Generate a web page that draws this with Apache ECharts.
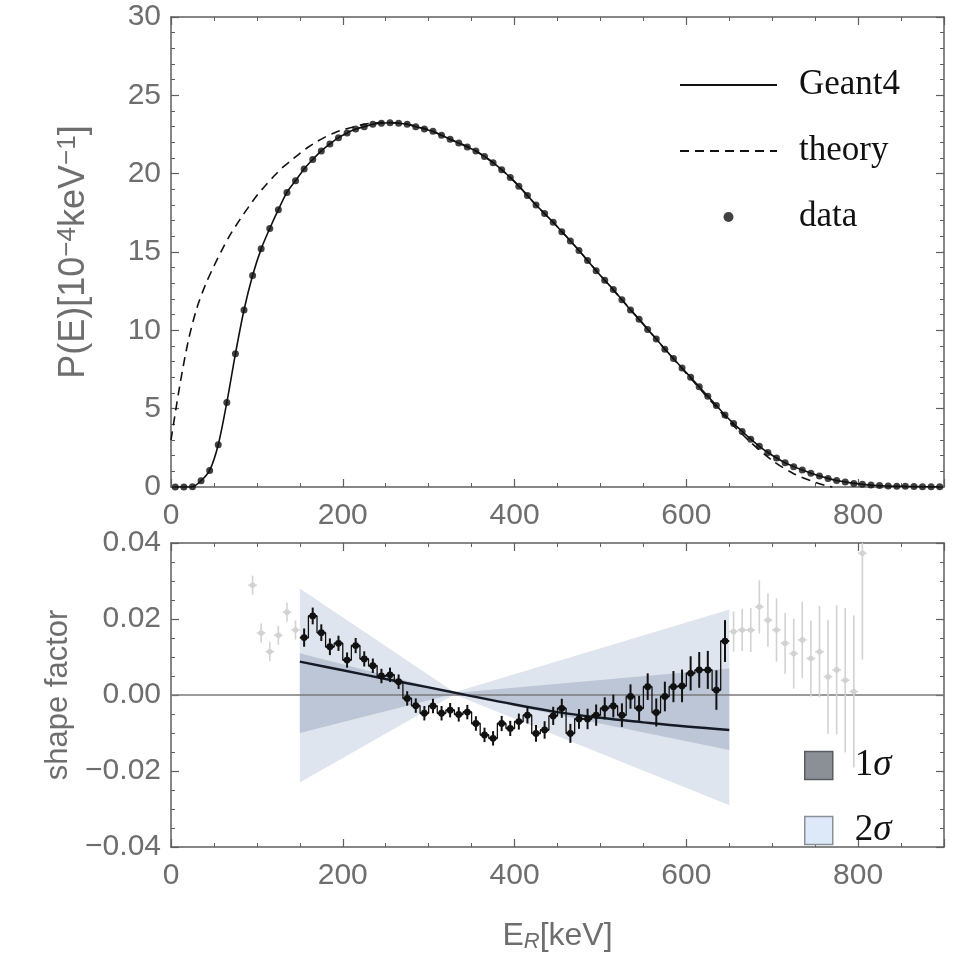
<!DOCTYPE html>
<html>
<head>
<meta charset="utf-8">
<script src="https://cdn.jsdelivr.net/npm/echarts@6/dist/echarts.min.js"></script>
<style>
  html, body { margin: 0; padding: 0; background: #fff; }
  #main { width: 964px; height: 959px; }
</style>
</head>
<body>
<div id="main"></div>
<script>
(() => {
  // ---- top panel: spectrum, bins of 10 keV ----
  const spectrumE = [5, 15, 25, 35, 45, 55, 65, 75, 85, 95, 105, 115, 125, 135, 145, 155, 165, 175, 185, 195,
    205, 215, 225, 235, 245, 255, 265, 275, 285, 295, 305, 315, 325, 335, 345, 355, 365, 375, 385, 395,
    405, 415, 425, 435, 445, 455, 465, 475, 485, 495, 505, 515, 525, 535, 545, 555, 565, 575, 585, 595,
    605, 615, 625, 635, 645, 655, 665, 675, 685, 695, 705, 715, 725, 735, 745, 755, 765, 775, 785, 795,
    805, 815, 825, 835, 845, 855, 865, 875, 885, 895];
  const spectrumVal = [0, 0, 0.02, 0.4, 1.06, 2.7, 5.4, 8.5, 11.3, 13.5, 15.2, 16.5, 17.7, 18.8, 19.55, 20.3, 20.9, 21.45, 21.9, 22.3,
    22.6, 22.85, 23.0, 23.15, 23.22, 23.25, 23.22, 23.15, 23.0, 22.85, 22.7, 22.45, 22.2, 21.95, 21.7, 21.45, 21.1, 20.7, 20.25, 19.75,
    19.2, 18.6, 18.0, 17.45, 16.9, 16.3, 15.7, 15.1, 14.45, 13.8, 13.2, 12.6, 11.95, 11.3, 10.7, 10.05, 9.45, 8.8, 8.2, 7.6,
    7.0, 6.4, 5.8, 5.2, 4.6, 4.05, 3.55, 3.05, 2.6, 2.2, 1.85, 1.55, 1.3, 1.08, 0.88, 0.7, 0.55, 0.42, 0.32, 0.23,
    0.17, 0.12, 0.09, 0.06, 0.05, 0.04, 0.03, 0.02, 0.01, 0.01];

  const theoryE = [0, 10, 20, 30, 40, 50, 60, 70, 80, 90, 100, 110, 120, 130, 140, 150, 160, 170, 180, 190,
    200, 210, 220, 230, 240, 250, 260, 270, 280, 290, 300, 325, 350, 375, 400, 425, 450, 475, 500, 525,
    550, 575, 600, 625, 650, 675, 700, 725, 750, 765, 770];
  const theoryVal = [3.0, 6.4, 9.3, 11.4, 12.9, 14.1, 15.2, 16.2, 17.05, 17.85, 18.6, 19.25, 19.85, 20.4, 20.85, 21.3, 21.7, 22.05, 22.35, 22.6,
    22.8, 22.95, 23.1, 23.2, 23.25, 23.28, 23.25, 23.2, 23.1, 22.95, 22.8, 22.2, 21.6, 20.7, 19.5, 18.0, 16.6, 15.1, 13.5, 11.95,
    10.4, 8.8, 7.25, 5.7, 4.2, 2.85, 1.7, 0.85, 0.3, 0.05, 0];

  // ---- bottom panel: shape factor ----
  const shapeE = [155, 165, 175, 185, 195, 205, 215, 225, 235, 245, 255, 265, 275, 285, 295, 305, 315, 325, 335, 345,
    355, 365, 375, 385, 395, 405, 415, 425, 435, 445, 455, 465, 475, 485, 495, 505, 515, 525, 535, 545,
    555, 565, 575, 585, 595, 605, 615, 625, 635, 645];
  const shapeVal = [0.0151, 0.0208, 0.0164, 0.0127, 0.0136, 0.0092, 0.0130, 0.0095, 0.0077, 0.0050,
    0.0053, 0.0035, -0.0009, -0.0028, -0.0048, -0.0029, -0.0048, -0.0040, -0.0051, -0.0045,
    -0.0075, -0.0105, -0.0114, -0.0075, -0.0088, -0.0070, -0.0053, -0.0101, -0.0092, -0.0055,
    -0.0035, -0.0101, -0.0063, -0.0063, -0.0053, -0.0035, -0.0029, -0.0053, -0.0004, -0.0035,
    0.0022, -0.0046, -0.0004, 0.0022, 0.0024, 0.0057, 0.0066, 0.0066, 0.0013, 0.0142];
  const shapeErr = [0.0024, 0.0022, 0.0022, 0.0022, 0.0020, 0.0020, 0.0020, 0.0020, 0.0019, 0.0019,
    0.0019, 0.0019, 0.0019, 0.0019, 0.0019, 0.0019, 0.0019, 0.0019, 0.0019, 0.0019,
    0.0019, 0.0019, 0.0019, 0.0020, 0.0020, 0.0021, 0.0022, 0.0022, 0.0023, 0.0024,
    0.0025, 0.0025, 0.0026, 0.0027, 0.0028, 0.0029, 0.0030, 0.0031, 0.0032, 0.0033,
    0.0035, 0.0037, 0.0039, 0.0041, 0.0043, 0.0045, 0.0047, 0.0050, 0.0052, 0.0055];

  const grayE = [95, 105, 115, 125, 135, 145, 655, 665, 675, 685, 695, 705, 715, 725, 735, 745, 755, 765, 775, 785, 795, 805];
  const grayVal = [0.0289, 0.0163, 0.0114, 0.0157, 0.0218, 0.0171, 0.0167, 0.0171, 0.0171, 0.0232, 0.0197,
    0.0171, 0.0136, 0.0109, 0.0145, 0.0096, 0.0114, 0.0048, 0.0066, 0.0039, 0.0009, 0.0373];
  const grayErr = [0.0025, 0.0025, 0.0025, 0.0025, 0.0025, 0.0025, 0.0053, 0.0056, 0.0058, 0.0070, 0.0070,
    0.0083, 0.0080, 0.0092, 0.0100, 0.0100, 0.0120, 0.0150, 0.0170, 0.0190, 0.0200, 0.0280];

  const fitE = [150, 200, 250, 300, 350, 400, 450, 500, 550, 600, 650];
  const fitVal = [0.0088, 0.0065, 0.0042, 0.0020, -0.0003, -0.0025, -0.0045, -0.0060, -0.0072, -0.0083, -0.0092];

  const bandE = [150, 330, 650];
  const sigma1Lo = [-0.0100, 0.0003, -0.0145];
  const sigma1Hi = [0.0110, 0.0005, 0.0070];
  const sigma2Lo = [-0.0230, 0.0001, -0.0290];
  const sigma2Hi = [0.0280, 0.0007, 0.0225];

  const halfBin = 5;
  const yMaxBottom = 0.04;
  const tickFont = 'Liberation Sans';
  const labelColor = '#6e6e6e';
  const frameColor = '#5f5f5f';

  let myChart = echarts.init(document.getElementById('main'));

  const pairs = (xs, ys) => xs.map((x, i) => [x, ys[i]]);

  function bandRender(lo, hi) {
    return (params, api) => {
      if (params.dataIndex !== 0) return;
      const pts = [];
      bandE.forEach((e, i) => pts.push(api.coord([e, hi[i]])));
      for (let i = bandE.length - 1; i >= 0; i--) pts.push(api.coord([bandE[i], lo[i]]));
      return {
        type: 'polygon',
        shape: { points: pts },
        style: { fill: api.visual('color') }
      };
    };
  }

  function errorRender(color, width, r) {
    return (params, api) => {
      const e = api.value(0), v = api.value(1), err = api.value(2);
      const c = api.coord([e, v]);
      const t = api.coord([e, Math.min(v + err, yMaxBottom)]);
      const b = api.coord([e, v - err]);
      const l = api.coord([e - halfBin, v]);
      const rr = api.coord([e + halfBin, v]);
      return {
        type: 'group',
        children: [
          { type: 'line', shape: { x1: t[0], y1: t[1], x2: b[0], y2: b[1] }, style: { stroke: color, lineWidth: width } },
          { type: 'line', shape: { x1: l[0], y1: l[1], x2: rr[0], y2: rr[1] }, style: { stroke: color, lineWidth: width } },
          { type: 'circle', shape: { cx: c[0], cy: c[1], r: r }, style: { fill: color } }
        ]
      };
    };
  }

  const frameAxis = (extra) => Object.assign({
    type: 'value',
    axisLine: { show: true, onZero: false, lineStyle: { color: frameColor, width: 1.5 } },
    axisTick: { show: true, inside: true, length: 8, lineStyle: { color: frameColor, width: 1.2 } },
    minorTick: { show: true, length: 4, lineStyle: { color: frameColor, width: 1 } },
    splitLine: { show: false },
    axisLabel: { show: false }
  }, extra);

  const labelStyle = { show: true, color: labelColor, fontFamily: tickFont, fontSize: 30 };
  const minorX = { show: true, splitNumber: 4, length: 4, lineStyle: { color: frameColor } };
  const xCommon = { min: 0, max: 900, interval: 200 };

  let option = {
    animation: false,
    backgroundColor: '#ffffff',
    grid: [
      { left: 171, top: 17, width: 773, height: 470 },
      { left: 171, top: 543, width: 773, height: 304 }
    ],
    xAxis: [
      frameAxis(Object.assign({ gridIndex: 0, position: 'bottom', minorTick: minorX,
        axisLabel: Object.assign({}, labelStyle, { margin: 14, showMaxLabel: false }) }, xCommon)),
      frameAxis(Object.assign({ gridIndex: 0, position: 'top', minorTick: minorX }, xCommon)),
      frameAxis(Object.assign({ gridIndex: 1, position: 'bottom', minorTick: minorX,
        axisLabel: Object.assign({}, labelStyle, { margin: 14, showMaxLabel: false }),
        name: '{e|E}{r|R}{e|[keV]}',
        nameLocation: 'middle',
        nameGap: 72,
        nameTextStyle: {
          color: labelColor,
          rich: {
            e: { fontFamily: tickFont, fontSize: 32, color: labelColor, lineHeight: 34 },
            r: { fontFamily: tickFont, fontSize: 22, fontStyle: 'italic', color: labelColor, lineHeight: 15, verticalAlign: 'bottom' }
          }
        } }, xCommon)),
      frameAxis(Object.assign({ gridIndex: 1, position: 'top', minorTick: minorX }, xCommon))
    ],
    yAxis: [
      frameAxis({ gridIndex: 0, position: 'left', min: 0, max: 30, interval: 5,
        minorTick: { show: true, splitNumber: 5, length: 4, lineStyle: { color: frameColor } },
        axisLabel: Object.assign({}, labelStyle, { margin: 10 }),
        name: 'P(E)[10{s|−4}keV{s|−1}]',
        nameLocation: 'middle',
        nameGap: 78,
        nameRotate: 90,
        nameTextStyle: {
          color: labelColor, fontFamily: tickFont, fontSize: 36, lineHeight: 38,
          rich: { s: { fontFamily: tickFont, fontSize: 26, color: labelColor, lineHeight: 18, verticalAlign: 'top' } }
        } }),
      frameAxis({ gridIndex: 0, position: 'right', min: 0, max: 30, interval: 5,
        minorTick: { show: true, splitNumber: 5, length: 4, lineStyle: { color: frameColor } } }),
      frameAxis({ gridIndex: 1, position: 'left', min: -0.04, max: 0.04, interval: 0.02,
        minorTick: { show: true, splitNumber: 4, length: 4, lineStyle: { color: frameColor } },
        axisLabel: Object.assign({}, labelStyle, {
          margin: 10,
          formatter: v => Math.abs(v) < 1e-9 ? '0.00' : (v < 0 ? '−' : '') + Math.abs(v).toFixed(2)
        }),
        name: 'shape factor',
        nameLocation: 'middle',
        nameGap: 82,
        nameRotate: 90,
        nameTextStyle: { color: labelColor, fontFamily: tickFont, fontSize: 31 } }),
      frameAxis({ gridIndex: 1, position: 'right', min: -0.04, max: 0.04, interval: 0.02,
        minorTick: { show: true, splitNumber: 4, length: 4, lineStyle: { color: frameColor } } })
    ],
    legend: [
      {
        data: [
          { name: 'Geant4', itemStyle: { opacity: 0 } },
          { name: 'theory', itemStyle: { opacity: 0 } },
          'data'
        ],
        orient: 'vertical',
        left: 674,
        top: 62,
        itemWidth: 97,
        itemHeight: 10,
        itemGap: 30,
        selectedMode: false,
        textStyle: { fontFamily: 'Liberation Serif', fontSize: 35, color: '#111', lineHeight: 36, padding: [0, 0, 0, 17] }
      },
      {
        data: [
          { name: '1σ', icon: 'rect', itemStyle: { color: '#8b9097', borderColor: '#575c63', borderWidth: 1.5 } },
          { name: '2σ', icon: 'rect', itemStyle: { color: '#dde9f8', borderColor: '#8a9098', borderWidth: 1.5 } }
        ],
        orient: 'vertical',
        left: 799,
        top: 742,
        itemWidth: 28,
        itemHeight: 28,
        itemGap: 28,
        selectedMode: false,
        formatter: name => name.replace('σ', '{s|σ}'),
        textStyle: {
          fontFamily: 'Liberation Serif', fontSize: 37, color: '#111', padding: [0, 0, 0, 17],
          rich: { s: { fontFamily: 'Liberation Serif', fontSize: 37, fontStyle: 'italic', color: '#111' } }
        }
      }
    ],
    series: [
      {
        name: 'theory',
        type: 'line',
        xAxisIndex: 0, yAxisIndex: 0,
        data: pairs(theoryE, theoryVal),
        symbol: 'none',
        smooth: 0.3,
        lineStyle: { color: '#111', width: 1.6, type: [9, 6] },
        itemStyle: { color: '#111' },
        z: 3
      },
      {
        name: 'Geant4',
        type: 'line',
        xAxisIndex: 0, yAxisIndex: 0,
        data: pairs(spectrumE, spectrumVal),
        symbol: 'none',
        smooth: 0.3,
        lineStyle: { color: '#111', width: 1.6 },
        itemStyle: { color: '#111' },
        z: 4
      },
      {
        name: 'data',
        type: 'scatter',
        xAxisIndex: 0, yAxisIndex: 0,
        data: pairs(spectrumE, spectrumVal),
        symbol: 'circle',
        symbolSize: 7,
        itemStyle: { color: '#111' },
        z: 5
      },
      {
        name: '2σ',
        type: 'custom',
        xAxisIndex: 2, yAxisIndex: 2,
        data: bandE.map((e, i) => [e, sigma2Lo[i], sigma2Hi[i]]),
        renderItem: bandRender(sigma2Lo, sigma2Hi),
        itemStyle: { color: '#dfe5ee' },
        z: 1
      },
      {
        name: '1σ',
        type: 'custom',
        xAxisIndex: 2, yAxisIndex: 2,
        data: bandE.map((e, i) => [e, sigma1Lo[i], sigma1Hi[i]]),
        renderItem: bandRender(sigma1Lo, sigma1Hi),
        itemStyle: { color: '#bcc6d6' },
        z: 2
      },
      {
        name: 'zero',
        type: 'line',
        xAxisIndex: 2, yAxisIndex: 2,
        data: [[0, 0], [900, 0]],
        symbol: 'none',
        lineStyle: { color: '#7a7a7a', width: 1.5 },
        z: 3
      },
      {
        name: 'fit',
        type: 'line',
        xAxisIndex: 2, yAxisIndex: 2,
        data: pairs(fitE, fitVal),
        symbol: 'none',
        smooth: 0.4,
        lineStyle: { color: '#151a26', width: 2.4 },
        z: 4
      },
      {
        name: 'excluded',
        type: 'custom',
        xAxisIndex: 2, yAxisIndex: 2,
        data: grayE.map((e, i) => [e, grayVal[i], grayErr[i]]),
        renderItem: errorRender('#d2d2d2', 1.6, 2.8),
        z: 4
      },
      {
        name: 'steps',
        type: 'line',
        xAxisIndex: 2, yAxisIndex: 2,
        data: pairs(shapeE, shapeVal),
        step: 'middle',
        symbol: 'none',
        lineStyle: { color: '#111', width: 1.3 },
        z: 5
      },
      {
        name: 'shape',
        type: 'custom',
        xAxisIndex: 2, yAxisIndex: 2,
        data: shapeE.map((e, i) => [e, shapeVal[i], shapeErr[i]]),
        renderItem: errorRender('#111', 2, 3.4),
        z: 6
      }
    ]
  };

  myChart.setOption(option);
})();
</script>
</body>
</html>
